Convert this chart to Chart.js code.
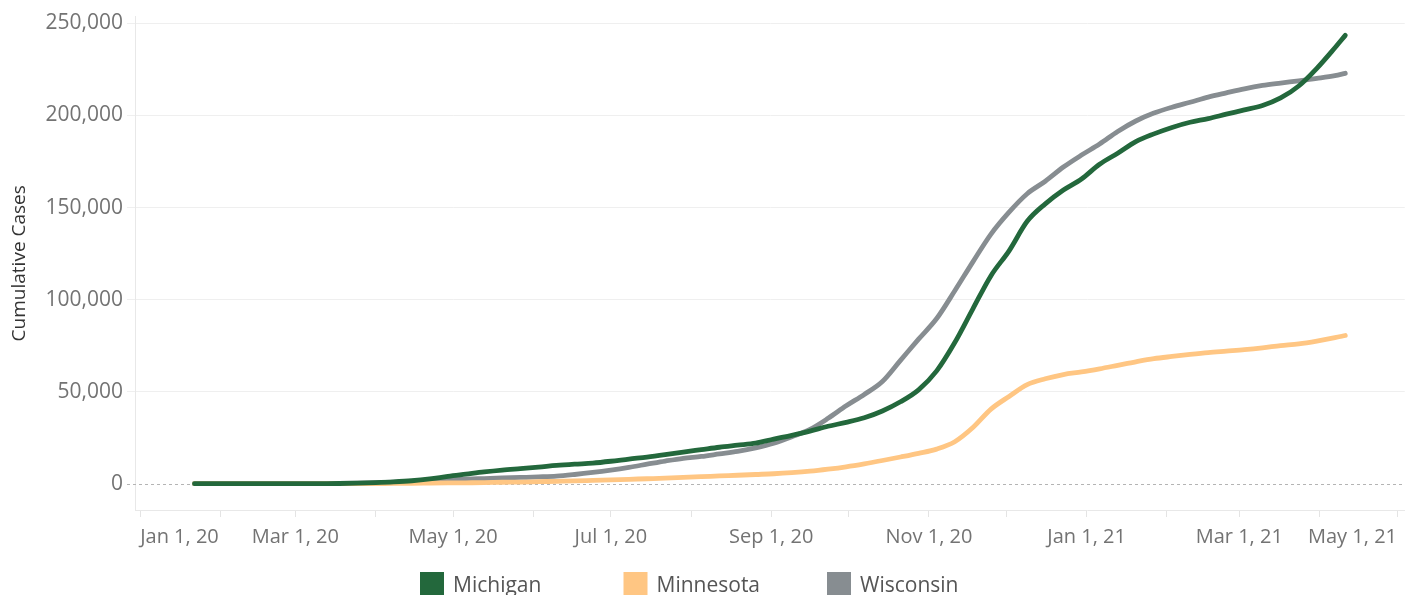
<!DOCTYPE html>
<html>
<head>
<meta charset="utf-8">
<script src="https://cdn.jsdelivr.net/npm/chart.js@4/dist/chart.umd.min.js"></script>
<style>
  html, body { margin: 0; padding: 0; background: #ffffff; }
  #wrap { position: relative; width: 1405px; height: 595px; }
</style>
</head>
<body>
<div id="wrap"><canvas id="c" width="1405" height="595"></canvas></div>
<script>
// Days since Jan 1, 2020
const days = [21,28,35,42,49,56,63,70,77,84,91,98,105,112,119,126,133,140,147,154,161,168,175,182,189,196,203,210,217,224,231,238,245,252,259,266,273,280,287,294,301,308,315,322,329,336,343,350,357,364,371,378,385,392,399,406,413,420,427,434,441,448,455,462,466];

const michigan = [0,0,0,0,0,0,0,50,100,300,600,1000,1600,2600,4000,5200,6400,7400,8200,9000,9900,10600,11200,12200,13400,14500,15800,17200,18500,19800,20900,22000,24200,26300,28600,31200,33300,35800,39500,44500,51000,61300,76700,95000,113000,126500,142500,152000,159500,165500,173500,179500,185800,190000,193500,196300,198300,200700,203000,205400,209500,216000,225600,236800,243500];

const minnesota = [0,0,0,0,0,0,0,0,20,50,100,150,200,300,400,500,600,800,900,1100,1300,1500,1800,2100,2400,2700,3000,3400,3800,4200,4600,5000,5400,6000,6800,7900,9200,10800,12600,14500,16500,18800,22800,30500,40500,47400,53800,57000,59300,60700,62400,64300,66200,67900,69100,70200,71200,72000,72800,73800,75000,76000,77500,79300,80500];

const wisconsin = [0,0,0,0,0,0,0,20,100,300,600,900,1200,1600,2100,2500,2800,3100,3400,3700,4100,5000,6100,7400,8900,10600,12300,13800,14800,16200,17600,19500,22000,25500,29500,35500,42300,48500,55500,67000,78500,89700,104800,120500,135600,147500,157500,164300,172000,178500,184500,191300,197000,201300,204500,207200,210000,212300,214500,216300,217600,218800,220100,221600,222900];

const seriesNames = ["Michigan", "Minnesota", "Wisconsin"];
const seriesColors = ["#23683c", "#ffc683", "#878d91"];

const monthTickDays = [0,31,60,91,121,152,182,213,244,274,305,335,366,397,425,456,486];
const monthTickLabels = ["Jan 1, 20","","Mar 1, 20","","May 1, 20","","Jul 1, 20","","Sep 1, 20","","Nov 1, 20","","Jan 1, 21","","Mar 1, 21","","May 1, 21"];
const yTickValues = [0,50000,100000,150000,200000,250000];

const FONT = "'Open Sans', 'Noto Sans', sans-serif";

function toPoints(vals) { return vals.map((v, i) => ({ x: days[i], y: v })); }
const seriesValues = [michigan, minnesota, wisconsin];

const zeroLinePlugin = {
  id: 'zeroLine',
  beforeDatasetsDraw(chart) {
    const y = Math.round(chart.scales.y.getPixelForValue(0)) + 0.5;
    const ctx = chart.ctx;
    ctx.save();
    ctx.strokeStyle = '#b4b4b4';
    ctx.lineWidth = 1;
    ctx.setLineDash([3, 3]);
    ctx.beginPath();
    ctx.moveTo(chart.chartArea.left - 8, y);
    ctx.lineTo(chart.chartArea.right, y);
    ctx.stroke();
    ctx.restore();
  }
};

const legendPlugin = {
  id: 'customLegend',
  afterDraw(chart) {
    const ctx = chart.ctx;
    ctx.save();
    chart.data.datasets.forEach((ds, i) => {
      const x = 420 + i * 203.5;
      ctx.fillStyle = ds.borderColor;
      ctx.fillRect(x, 572, 24, 30);
      ctx.fillStyle = '#555555';
      ctx.font = "21px " + FONT;
      ctx.textBaseline = 'alphabetic';
      ctx.textAlign = 'left';
      ctx.fillText(ds.label, x + 33, 592);
    });
    ctx.restore();
  }
};

new Chart(document.getElementById('c'), {
  type: 'line',
  data: {
    datasets: seriesNames.map((name, i) => ({
      label: name,
      data: toPoints(seriesValues[i]),
      borderColor: seriesColors[i],
      backgroundColor: seriesColors[i],
      borderWidth: 4.8,
      pointRadius: 0,
      pointHoverRadius: 0,
      cubicInterpolationMode: 'monotone',
      borderCapStyle: 'round',
      borderJoinStyle: 'round',
      fill: false
    }))
  },
  options: {
    responsive: false,
    animation: false,
    events: [],
    layout: { padding: { top: 0, right: 0, bottom: 0, left: 0 } },
    plugins: {
      legend: { display: false },
      tooltip: { enabled: false }
    },
    scales: {
      x: {
        type: 'linear',
        min: -2,
        max: 489,
        afterBuildTicks(scale) { scale.ticks = monthTickDays.map(v => ({ value: v })); },
        afterFit(scale) { scale.height = 85; },
        ticks: {
          autoSkip: false,
          maxRotation: 0,
          align: 'inner',
          padding: 8,
          color: '#737373',
          font: { family: FONT, size: 20 },
          callback(value, index) { return monthTickLabels[index]; }
        },
        grid: { drawOnChartArea: false, drawTicks: true, tickLength: 7, color: '#e4e4e4' },
        border: { display: true, color: '#e8e8e8', width: 1 }
      },
      y: {
        type: 'linear',
        min: -14280,
        max: 253700,
        afterBuildTicks(scale) { scale.ticks = yTickValues.map(v => ({ value: v })); },
        afterFit(scale) { scale.width = 135; },
        ticks: {
          padding: 4,
          color: '#737373',
          font: { family: FONT, size: 21 },
          callback(value) { return Number(value).toLocaleString('en-US'); }
        },
        grid: {
          drawTicks: true,
          tickLength: 8,
          color: (ctx) => (ctx.tick && ctx.tick.value === 0) ? 'rgba(0,0,0,0)' : '#efefef'
        },
        border: { display: true, color: '#e8e8e8', width: 1 },
        title: {
          display: true,
          text: 'Cumulative Cases',
          color: '#333333',
          font: { family: FONT, size: 19 },
          padding: { top: 8, bottom: 0 }
        }
      }
    }
  },
  plugins: [zeroLinePlugin, legendPlugin]
});
</script>
</body>
</html>
